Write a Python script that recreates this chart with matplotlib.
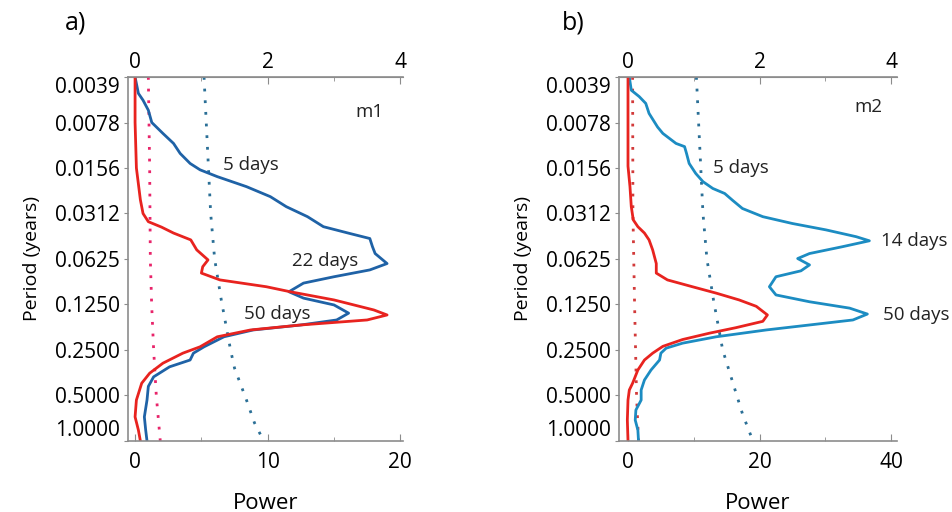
import numpy as np
import matplotlib
matplotlib.use("Agg")
import matplotlib.pyplot as plt

plt.rcParams['font.family'] = ['Open Sans', 'DejaVu Sans']

# period exponents (log2 of years) and power
ytick_vals = [2.0 ** k for k in range(-8, 1)]
ytick_labels = ["0.0039", "0.0078", "0.0156", "0.0312", "0.0625",
                "0.1250", "0.2500", "0.5000", "1.0000"]

# panel a (m1)
a_red_lp = [-8, -7.49, -7, -6, -5.3, -5, -4.82, -4.7, -4.57, -4.42, -4.2, -3.98, -3.83, -3.69,
            -3.54, -3.39, -3.28, -3.1, -2.88, -2.77, -2.66, -2.55, -2.44, -2.29, -2.07,
            -1.93, -1.71, -1.49, -1.27, -0.9, -0.53, -0.24, 0]
a_red = [0, 0, 0, 0.1, 0.4, 0.6, 1.0, 2.0, 2.9, 4.2, 4.65, 5.5, 5.1, 5.0,
         6.4, 9.9, 11.7, 15, 18, 19.0, 17.5, 12.5, 8.7, 6.2, 4.9,
         3.6, 2.1, 1.1, 0.5, 0.1, 0, 0.25, 0.4]
a_blue_lp = [-8, -7.64, -7.49, -7.27, -7, -6.76, -6.54, -6.32, -6.1, -5.96, -5.81, -5.59,
             -5.37, -5.15, -4.93, -4.71, -4.56, -4.45, -4.27, -4.12, -3.9, -3.76, -3.61,
             -3.47, -3.28, -3.14, -2.99, -2.81, -2.66, -2.55, -2.44, -2.29, -2.07, -1.93,
             -1.78, -1.63, -1.41, -1.2, -0.9, -0.53, -0.24, 0]
a_blue = [0, 0.25, 0.6, 1.0, 1.26, 2.1, 2.9, 3.4, 4.15, 4.9, 6.2, 8.4,
          10.2, 11.4, 13, 14.2, 16.2, 17.7, 17.9, 18.1, 19.0, 17.7, 15,
          12.7, 11.6, 12.7, 15, 16.1, 15.2, 12.5, 8.9, 6.7, 5.2, 4.4,
          4.15, 2.6, 1.4, 1.0, 0.9, 0.7, 0.8, 0.9]
a_red_sig_lp = [-8, -6, -4, -3, -2, -1, 0]
a_red_sig = [1.0, 1.1, 1.15, 1.25, 1.4, 1.6, 1.9]
a_blue_sig_lp = [-8, -5, -4, -3.1, -2, -1.6, -0.9, -0.4, 0]
a_blue_sig = [5.2, 5.7, 6.0, 6.5, 7.2, 7.5, 8.4, 9.0, 9.7]

# panel b (m2)
b_red_lp = [-8, -6.77, -6.04, -5.59, -5.15, -4.86, -4.71, -4.57, -4.42, -4.2, -3.9, -3.69,
            -3.54, -3.39, -3.25, -3.1, -2.96, -2.77, -2.63, -2.49, -2.37, -2.23, -2.08,
            -1.93, -1.78, -1.56, -1.27, -1.12, -0.9, -0.46, 0]
b_red = [0, 0, 0, 0.3, 0.5, 0.8, 1.5, 2.5, 3.2, 3.75, 4.3, 4.3,
         6.0, 9.8, 13.4, 16.9, 19.5, 21.2, 20.5, 16.4, 12.4, 8.3, 5.3,
         3.75, 2.5, 1.5, 0.7, 0.2, 0, -0.1, 0]
b_blue_lp = [-8, -7.71, -7.57, -7.42, -7.2, -6.9, -6.76, -6.54, -6.47, -6.32, -6.1, -5.88,
             -5.7, -5.55, -5.44, -5.29, -5.11, -4.93, -4.78, -4.64, -4.49, -4.4, -4.27,
             -4.12, -4.01, -3.87, -3.74, -3.61, -3.39, -3.21, -3.06, -2.92, -2.79, -2.66,
             -2.55, -2.44, -2.29, -2.15, -2.04, -1.93, -1.78, -1.56, -1.34, -1.12, -0.9,
             -0.68, -0.46, -0.24, 0]
b_blue = [0.2, 0.5, 1.7, 2.7, 3.2, 4.5, 5.3, 7.3, 8.6, 8.9, 9.3, 10.3,
          11.4, 12.9, 14.7, 15.9, 17.4, 20.5, 25, 30.1, 34.7, 36.7, 32.6,
          27.6, 25.8, 27.6, 26.3, 22.5, 21.5, 22.5, 27.6, 33.7, 36.4, 34.2,
          27.6, 21.0, 13.4, 8.3, 5.8, 5.0, 4.8, 3.5, 2.5, 2.0, 2.0,
          1.2, 1.1, 1.5, 1.6]
b_red_sig_lp = [-8, -5, -3, -1, 0]
b_red_sig = [0.7, 0.75, 1.0, 1.3, 1.6]
b_blue_sig_lp = [-8, -5, -4, -3.1, -2, -1.3, -0.6, 0]
b_blue_sig = [10.4, 11.4, 12.0, 13.0, 14.4, 15.9, 17.4, 19.0]

RED = "#e8231f"
GREY = "#8c8c8c"


def draw_panel(ax, red_lp, red, blue_lp, blue, rsig_lp, rsig, bsig_lp, bsig,
               blue_col, rsig_col, scale, xlim, bottom_ticks, bottom_minor,
               labels, tag, letter, letter_x):
    ax.plot(rsig, 2.0 ** np.array(rsig_lp), linestyle=(0, (1, 3.2)), color=rsig_col, lw=2.0)
    ax.plot(bsig, 2.0 ** np.array(bsig_lp), linestyle=(0, (1, 3.2)), color="#2a6f96", lw=2.0)
    ax.plot(blue, 2.0 ** np.array(blue_lp), color=blue_col, lw=2.0, solid_joinstyle="round")
    ax.plot(red, 2.0 ** np.array(red_lp), color=RED, lw=2.0, solid_joinstyle="round")

    ax.set_yscale("log", base=2)
    ax.set_ylim(1.0, 2.0 ** -8)
    ax.set_xlim(*xlim)
    ax.set_yticks(ytick_vals)
    ax.set_yticklabels(ytick_labels)
    ax.yaxis.set_minor_locator(matplotlib.ticker.NullLocator())
    ax.set_xticks(bottom_ticks)
    ax.set_xticks(bottom_minor, minor=True)

    for s in ["left", "top", "bottom"]:
        ax.spines[s].set_color(GREY)
        ax.spines[s].set_linewidth(1.2)
    ax.spines["right"].set_visible(False)

    ax.tick_params(axis="x", direction="in", length=5, color=GREY, labelsize=15, pad=8)
    ax.tick_params(axis="x", which="minor", direction="in", length=3, color=GREY)
    ax.tick_params(axis="y", direction="out", length=3, color=GREY, labelsize=15, pad=3)
    tl = ax.get_yticklabels()
    tl[0].set_va("top")
    tl[-1].set_va("bottom")

    top = ax.secondary_xaxis("top", functions=(lambda x: x / scale, lambda x: x * scale))
    top.set_xticks([0, 2, 4])
    top.set_xticks([1, 3], minor=True)
    top.spines["top"].set_color(GREY)
    top.tick_params(axis="x", direction="in", length=5, color=GREY, labelsize=15, pad=3)
    top.tick_params(axis="x", which="minor", direction="in", length=3, color=GREY)

    ax.set_xlabel("Power", fontsize=16, labelpad=14)
    ax.set_ylabel("Period (years)", fontsize=14, labelpad=10)

    for txt, x, lp in labels:
        ax.text(x, 2.0 ** lp, txt, fontsize=13.5, color="#222222", ha="center",
                va="center", clip_on=False)
    ax.text(tag[0], 2.0 ** tag[1], tag[2], fontsize=13.5, color="#222222",
            ha="center", va="center")
    ax.figure.text(letter_x, 0.955, letter, fontsize=18, ha="center", va="center")


fig = plt.figure(figsize=(9.52, 5.12), dpi=100)
ax1 = fig.add_axes([0.1345, 0.1387, 0.2888, 0.7109])
ax2 = fig.add_axes([0.6502, 0.1387, 0.2920, 0.7109])

draw_panel(ax1, a_red_lp, a_red, a_blue_lp, a_blue, a_red_sig_lp, a_red_sig,
           a_blue_sig_lp, a_blue_sig, "#1f62a6", "#e8246a", 5, (-0.53, 20.2),
           [0, 10, 20], [5, 15],
           [("5 days", 8.7, -6.07), ("22 days", 14.3, -3.96), ("50 days", 10.7, -2.79)],
           (17.7, -7.23, "m1"), "a)", 0.079)
draw_panel(ax2, b_red_lp, b_red, b_blue_lp, b_blue, b_red_sig_lp, b_red_sig,
           b_blue_sig_lp, b_blue_sig, "#1c8cc2", "#d23a3a", 10, (-1.37, 40.9),
           [0, 20, 40], [10, 30],
           [("5 days", 17.2, -6.01), ("14 days", 43.6, -4.40), ("50 days", 43.9, -2.77)],
           (36.5, -7.35, "m2"), "b)", 0.602)

fig.savefig("out.png", dpi=100)
